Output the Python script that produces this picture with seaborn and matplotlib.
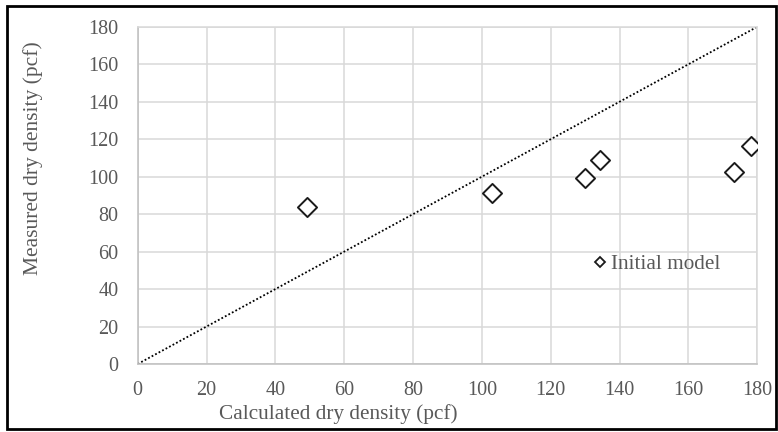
import matplotlib
matplotlib.use("Agg")
import matplotlib.pyplot as plt
from matplotlib.lines import Line2D
import seaborn as sns
import pandas as pd

# Calculated vs measured dry density (pcf)
calculated = [49.3, 102.9, 130.0, 134.4, 173.1, 178.3]
measured = [84.0, 91.2, 99.2, 109.0, 102.7, 116.6]
series_name = "Initial model"
ticks = [0, 20, 40, 60, 80, 100, 120, 140, 160, 180]
line_of_equality = [0, 180]

df = pd.DataFrame({"calc": calculated, "meas": measured})

sns.set_theme(style="white")
plt.rcParams["font.family"] = ["Liberation Serif", "DejaVu Serif"]

text_color = "#595959"
grid_color = "#d9d9d9"

fig = plt.figure(figsize=(7.78, 4.32), dpi=100)
ax = fig.add_axes([0.177, 0.1574, 0.7964, 0.7806])

# 1:1 reference line
ax.plot(line_of_equality, line_of_equality, linestyle=(0, (1, 1.2)),
        color="black", linewidth=1.3, zorder=2)

sns.scatterplot(data=df, x="calc", y="meas", marker="D", s=95,
                facecolor="white", edgecolor="#1a1a1a", linewidth=1.4,
                ax=ax, zorder=3, legend=False)

ax.set_xlim(0, 180)
ax.set_ylim(0, 180)
ax.set_xticks(ticks)
ax.set_yticks(ticks)
ax.grid(True, color=grid_color, linewidth=1.1)
ax.set_axisbelow(True)
for sp in ax.spines.values():
    sp.set_visible(True)
    sp.set_color(grid_color)
    sp.set_linewidth(1.1)
ax.spines["left"].set_color("#bfbfbf")
ax.spines["bottom"].set_color("#bfbfbf")

ax.tick_params(axis="x", labelsize=14.5, colors=text_color, length=0, pad=12)
ax.tick_params(axis="y", labelsize=14.5, colors=text_color, length=0, pad=14)

ax.set_xlabel("Calculated dry density (pcf)", fontsize=15.3, color=text_color)
ax.set_ylabel("Measured dry density (pcf)", fontsize=15.5, color=text_color)
ax.xaxis.set_label_coords(0.323, -0.118)
ax.yaxis.set_label_coords(-0.153, 0.612)

handle = Line2D([], [], marker="D", linestyle="none", markersize=5,
                markerfacecolor="white", markeredgecolor="#1a1a1a",
                markeredgewidth=1.3)
leg = ax.legend([handle], [series_name], loc="upper left",
                bbox_to_anchor=(0.705, 0.37), frameon=False,
                handletextpad=0.0, handlelength=1.0, borderpad=0.2,
                prop={"size": 15.3})
for t in leg.get_texts():
    t.set_color(text_color)

# figure border
fig.patches.append(plt.Rectangle((0.009, 0.007), 0.988, 0.978,
                                 transform=fig.transFigure, fill=False,
                                 edgecolor="black", linewidth=2))

fig.savefig("out.png", dpi=100)
